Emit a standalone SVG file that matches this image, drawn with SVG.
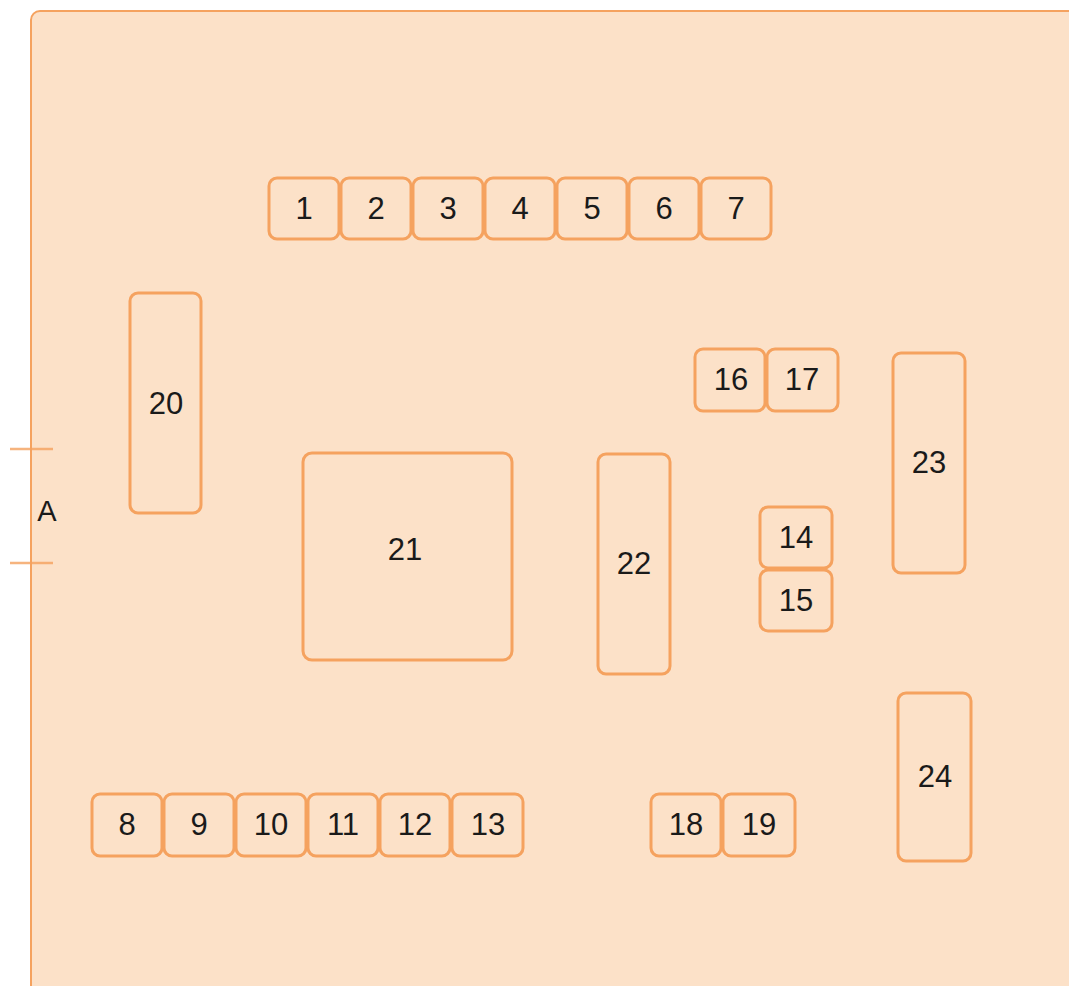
<svg xmlns="http://www.w3.org/2000/svg" width="1069" height="986" viewBox="0 0 1069 986">
<style>
.b{fill:#FCE1C8;stroke:#F5A25F;stroke-width:3}
.t{font-family:"Liberation Sans",Arial,sans-serif;font-size:31px;fill:#1a1a1a;text-anchor:middle;dominant-baseline:central;transform-box:fill-box;}
</style>
<rect width="1069" height="986" fill="#ffffff"/>
<g id="panel"><rect x="31" y="11" width="1080" height="1000" rx="9" fill="#FCE1C8" stroke="#F5A25F" stroke-width="2"/></g>
<g id="connectors">
<line x1="10" y1="449" x2="53" y2="449" stroke="#F5A25F" stroke-width="2.5" opacity="0.8"/>
<line x1="10" y1="563" x2="53" y2="563" stroke="#F5A25F" stroke-width="2.5" opacity="0.8"/>
</g>
<g id="labelA"><text class="t" x="47" y="511" style="font-size:29px">A</text></g>
<g id="n1"><rect class="b" x="269" y="178" width="70" height="61" rx="8"/><text class="t" x="304" y="208">1</text></g>
<g id="n2"><rect class="b" x="341" y="178" width="70" height="61" rx="8"/><text class="t" x="376" y="208">2</text></g>
<g id="n3"><rect class="b" x="413" y="178" width="70" height="61" rx="8"/><text class="t" x="448" y="208">3</text></g>
<g id="n4"><rect class="b" x="485" y="178" width="70" height="61" rx="8"/><text class="t" x="520" y="208">4</text></g>
<g id="n5"><rect class="b" x="557" y="178" width="70" height="61" rx="8"/><text class="t" x="592" y="208">5</text></g>
<g id="n6"><rect class="b" x="629" y="178" width="70" height="61" rx="8"/><text class="t" x="664" y="208">6</text></g>
<g id="n7"><rect class="b" x="701" y="178" width="70" height="61" rx="8"/><text class="t" x="736" y="208">7</text></g>
<g id="n20"><rect class="b" x="130" y="293" width="71" height="220" rx="8"/><text class="t" x="166" y="403">20</text></g>
<g id="n21"><rect class="b" x="303" y="453" width="209" height="207" rx="9"/><text class="t" x="405" y="549">21</text></g>
<g id="n22"><rect class="b" x="598" y="454" width="72" height="220" rx="8"/><text class="t" x="634" y="563">22</text></g>
<g id="n16"><rect class="b" x="695" y="349" width="70" height="62" rx="8"/><text class="t" x="731" y="379">16</text></g>
<g id="n17"><rect class="b" x="767" y="349" width="71" height="62" rx="8"/><text class="t" x="802" y="379">17</text></g>
<g id="n23"><rect class="b" x="893" y="353" width="72" height="220" rx="8"/><text class="t" x="929" y="462">23</text></g>
<g id="n14"><rect class="b" x="760" y="507" width="72" height="61" rx="8"/><text class="t" x="796" y="537">14</text></g>
<g id="n15"><rect class="b" x="760" y="570" width="72" height="61" rx="8"/><text class="t" x="796" y="600">15</text></g>
<g id="n24"><rect class="b" x="898" y="693" width="73" height="168" rx="8"/><text class="t" x="935" y="776">24</text></g>
<g id="n8"><rect class="b" x="92" y="794" width="70" height="62" rx="8"/><text class="t" x="127" y="824">8</text></g>
<g id="n9"><rect class="b" x="164" y="794" width="70" height="62" rx="8"/><text class="t" x="199" y="824">9</text></g>
<g id="n10"><rect class="b" x="236" y="794" width="70" height="62" rx="8"/><text class="t" x="271" y="824">10</text></g>
<g id="n11"><rect class="b" x="308" y="794" width="70" height="62" rx="8"/><text class="t" x="343" y="824">11</text></g>
<g id="n12"><rect class="b" x="380" y="794" width="70" height="62" rx="8"/><text class="t" x="415" y="824">12</text></g>
<g id="n13"><rect class="b" x="452" y="794" width="71" height="62" rx="8"/><text class="t" x="488" y="824">13</text></g>
<g id="n18"><rect class="b" x="651" y="794" width="70" height="62" rx="8"/><text class="t" x="686" y="824">18</text></g>
<g id="n19"><rect class="b" x="723" y="794" width="72" height="62" rx="8"/><text class="t" x="759" y="824">19</text></g>
</svg>
